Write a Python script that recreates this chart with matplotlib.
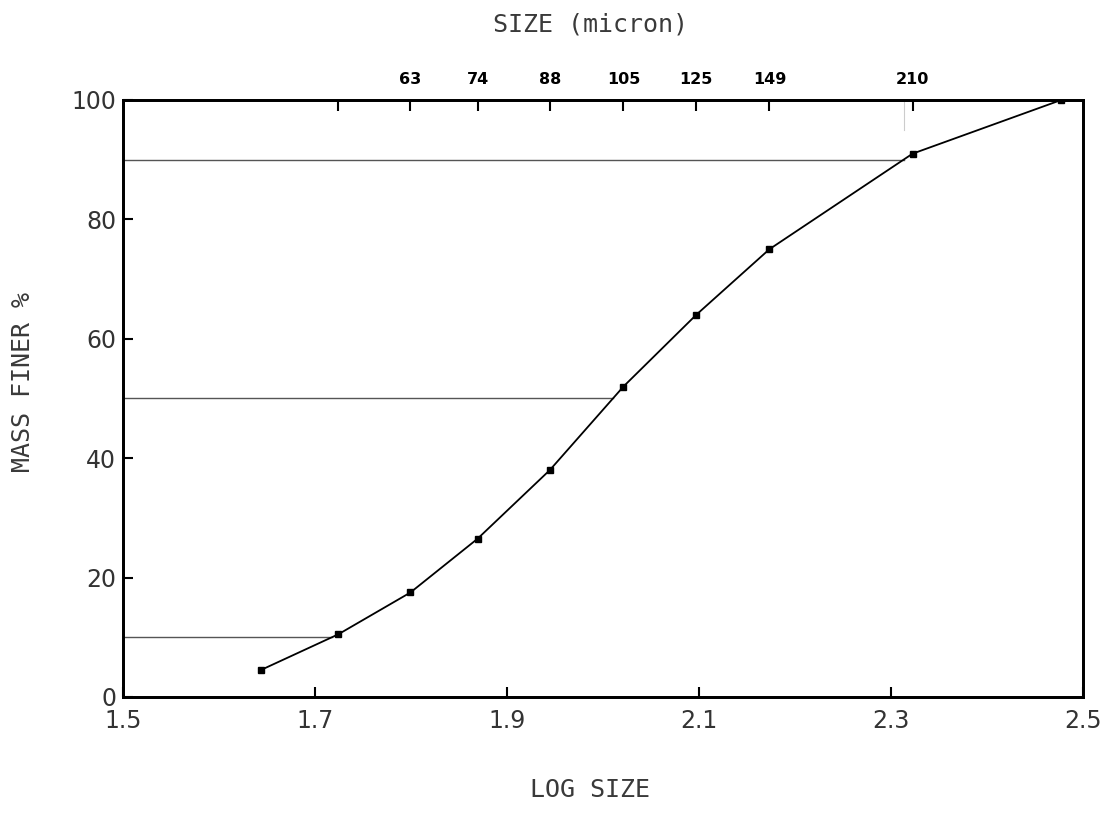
import numpy as np
import matplotlib
matplotlib.use("Agg")
import matplotlib.pyplot as plt

# sieve sizes (micron) and cumulative mass finer (%)
sizes = np.array([44, 53, 63, 74, 88, 105, 125, 149, 210, 300])
finer = [4.5, 10.5, 17.5, 26.5, 38, 52, 64, 75, 91, 100]

top_sizes = [53, 63, 74, 88, 105, 125, 149, 210]
top_labels = ["", "63", "74", "88", "105", "125", "149", "210"]

x_ticks = [1.5, 1.7, 1.9, 2.1, 2.3, 2.5]
y_ticks = [0, 20, 40, 60, 80, 100]
d_levels = [10, 50, 90]

logsize = np.log10(sizes)

fig = plt.figure(figsize=(11.05, 8.31), dpi=100)
ax = fig.add_axes([0.1113, 0.1613, 0.869, 0.7184])

# D10 / D50 / D90 guide lines
for lvl in d_levels:
    xe = np.interp(lvl, finer, logsize)
    ax.plot([1.5, xe], [lvl, lvl], color="#555555", lw=1.0, zorder=1)
ax.plot([np.interp(90, finer, logsize)] * 2, [95, 100], color="#cccccc", lw=0.8)

ax.plot(logsize, finer, color="black", lw=1.3, marker="s", ms=4.5, zorder=3)

ax.set_xlim(1.5, 2.5)
ax.set_ylim(0, 100)
ax.set_xticks(x_ticks)
ax.set_xticklabels([f"{v:.1f}" for v in x_ticks])
ax.set_yticks(y_ticks)
for s in ax.spines.values():
    s.set_linewidth(2)
ax.tick_params(direction="in", length=7, width=1.5, labelsize=17,
               labelcolor="#333333")
ax.tick_params(axis="x", pad=9)
ax.tick_params(axis="y", pad=5)

top = ax.twiny()
top.set_xlim(ax.get_xlim())
top.set_xticks(np.log10(top_sizes))
top.set_xticklabels(top_labels, fontweight="bold", fontsize=11.5)
top.tick_params(direction="in", length=8, width=1.5, pad=9)
for s in top.spines.values():
    s.set_linewidth(2)

lab = dict(family="DejaVu Sans Mono", fontsize=18, color="#3a3a3a",
           ha="center", va="center")
fig.text(0.534, 0.97, "SIZE (micron)", **lab)
fig.text(0.534, 0.049, "LOG SIZE", **lab)
fig.text(0.021, 0.54, "MASS FINER %", rotation=90, **lab)

fig.savefig("out.png", dpi=100)
